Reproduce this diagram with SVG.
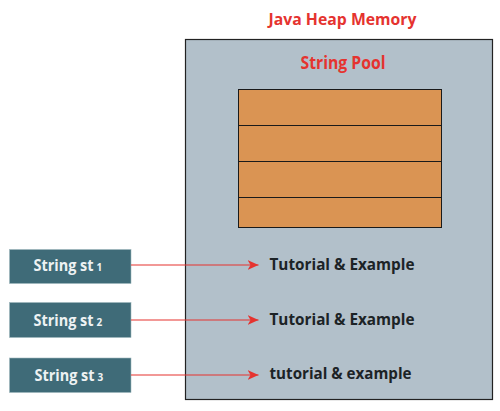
<svg xmlns="http://www.w3.org/2000/svg" width="500" height="411" viewBox="0 0 500 411">
<style>
.red{fill:#e5332f;font-family:"Open Sans","Liberation Sans",sans-serif;font-weight:bold}
.val{fill:#1c2326;font-family:"Open Sans","Liberation Sans",sans-serif;font-weight:bold;font-size:16.5px}
.var{fill:#3f6b78;stroke:#9fb7bd;stroke-width:0.6}
.vt{fill:#eef2f3;font-family:"Open Sans","Liberation Sans",sans-serif;font-weight:bold;font-size:15.5px}
.sub{fill:#eef2f3;font-family:"Open Sans","Liberation Sans",sans-serif;font-weight:bold;font-size:10px}
.conn{stroke:#e5332f;stroke-width:1.2;fill:none}
</style>
<defs>
<marker id="ah" markerWidth="12" markerHeight="10" refX="11" refY="5" orient="auto" markerUnits="userSpaceOnUse">
<path d="M0,0 L11,5 L0,10 L3,5 Z" fill="#e5332f"/>
</marker>
</defs>
<rect width="500" height="411" fill="#ffffff"/>
<g id="heap">
<rect x="185.5" y="39.5" width="307" height="360" fill="#b2c0ca" stroke="#222" stroke-width="1.2"/>
<text class="red" x="268.5" y="25" font-size="16.5" textLength="148" lengthAdjust="spacingAndGlyphs">Java Heap Memory</text>
</g>
<g id="pool">
<text class="red" x="300.5" y="68.5" font-size="17" textLength="85" lengthAdjust="spacingAndGlyphs">String Pool</text>
<rect x="238.5" y="89.5" width="203" height="138" fill="#da9453" stroke="#1a1a1a" stroke-width="1"/>
<line x1="238.5" y1="125.5" x2="441.5" y2="125.5" stroke="#1a1a1a"/>
<line x1="238.5" y1="161.5" x2="441.5" y2="161.5" stroke="#1a1a1a"/>
<line x1="238.5" y1="197.5" x2="441.5" y2="197.5" stroke="#1a1a1a"/>
</g>
<g id="st1">
<rect class="var" x="9.5" y="249.5" width="121.5" height="34"/>
<text class="vt" x="33.5" y="270.5" textLength="60" lengthAdjust="spacingAndGlyphs">String st</text>
<text class="sub" x="96.5" y="270.5">1</text>
</g>
<g id="st2">
<rect class="var" x="9.5" y="302.5" width="121.5" height="35"/>
<text class="vt" x="33.5" y="325.5" textLength="60" lengthAdjust="spacingAndGlyphs">String st</text>
<text class="sub" x="96.5" y="325.5">2</text>
</g>
<g id="st3">
<rect class="var" x="9.5" y="358" width="121.5" height="34.5"/>
<text class="vt" x="34.5" y="380.5" textLength="60" lengthAdjust="spacingAndGlyphs">String st</text>
<text class="sub" x="97.5" y="380.5">3</text>
</g>
<g id="v1"><text class="val" x="269.5" y="269.5" textLength="145" lengthAdjust="spacingAndGlyphs">Tutorial &amp; Example</text></g>
<g id="v2"><text class="val" x="269.5" y="325" textLength="145" lengthAdjust="spacingAndGlyphs">Tutorial &amp; Example</text></g>
<g id="v3"><text class="val" x="269.5" y="379" textLength="142" lengthAdjust="spacingAndGlyphs">tutorial &amp; example</text></g>
<g id="connectors">
<line class="conn" x1="131" y1="265" x2="258.5" y2="265" marker-end="url(#ah)"/>
<line class="conn" x1="131" y1="320" x2="258.5" y2="320" marker-end="url(#ah)"/>
<line class="conn" x1="131" y1="375" x2="258.5" y2="375" marker-end="url(#ah)"/>
</g>
</svg>
